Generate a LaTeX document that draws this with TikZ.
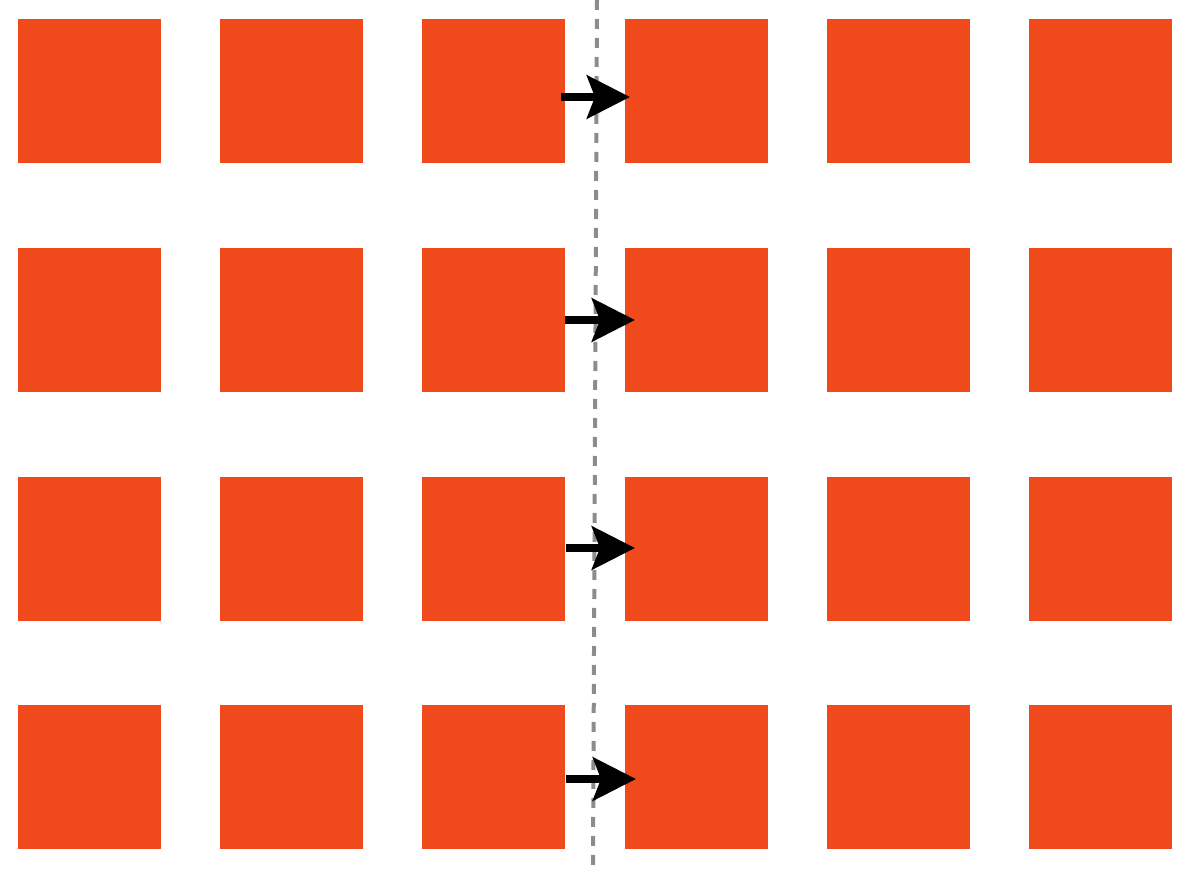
\documentclass[tikz,border=0pt]{standalone}
\usetikzlibrary{arrows.meta}
\definecolor{tile}{HTML}{F04A1C}
\definecolor{divider}{HTML}{8C8C8C}
\begin{document}
\begin{tikzpicture}[x=1pt,y=-1pt,
  tilebox/.style={fill=tile,draw=none,minimum width=143pt,minimum height=144pt,inner sep=0pt,outer sep=0pt,anchor=north west},
  pusharrow/.style={line width=8pt,black,-{Stealth[length=43pt,width=43pt,inset=8pt]}},
  divline/.style={divider,line width=4pt,dash pattern=on 10pt off 9pt}]
\useasboundingbox (0,0) rectangle (1195,869);
\foreach \r/\y in {1/19,2/248,3/477,4/705}{
  \foreach \c/\x in {1/18,2/220,3/422,4/625,5/827,6/1029}{
    \node[tilebox] (t\r\c) at (\x,\y) {};
  }
}
\coordinate (dtop) at (597,0);
\coordinate (dbot) at (593,869);
\draw[divline] (dtop) -- (dbot);
\coordinate (s1) at (561,97);  \coordinate (e1) at (630,97);
\coordinate (s2) at (565,320); \coordinate (e2) at (635,320);
\coordinate (s3) at (566,548); \coordinate (e3) at (635,548);
\coordinate (s4) at (566,779); \coordinate (e4) at (636,779);
\foreach \i in {1,2,3,4}{\draw[pusharrow] (s\i) -- (e\i);}
\end{tikzpicture}
\end{document}
